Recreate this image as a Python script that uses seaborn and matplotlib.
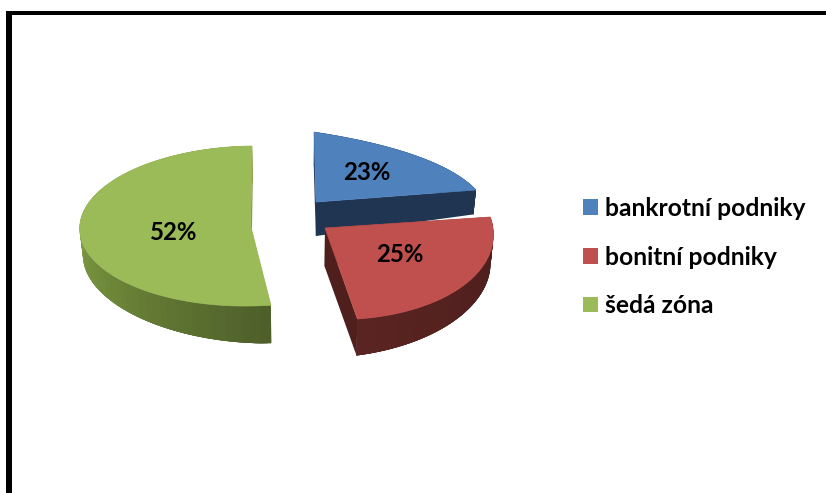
import numpy as np
import matplotlib
matplotlib.use("Agg")
import matplotlib.pyplot as plt
from matplotlib.patches import Patch, Polygon, Rectangle
import seaborn as sns

# Chart content
categories = ["bankrotní podniky", "bonitní podniky", "šedá zóna"]
shares = [23, 25, 52]

sns.set_theme(style="white")
plt.rcParams["font.family"] = ["Lato", "DejaVu Sans"]
plt.rcParams["font.weight"] = "bold"

top_colors = sns.color_palette(["#4F81BD", "#C0504D", "#9BBB59"])
side_ramps = [
    sns.blend_palette(["#1F3552", "#1F3552"], 64),
    sns.blend_palette(["#4B1E1C", "#5A2422"], 64),
    sns.blend_palette(["#4E5F2A", "#6E8839", "#8DA851", "#8DA851"], 64),
]
cut_colors = ["#1F3552", "#4E1F1D", "#7F9A45"]

# Projection of each exploded slice: apex, images of the disc's east and north
# axes, perspective terms of the homogeneous divisor, wall thickness, label spot.
projections = [
    dict(apex=(316, 202), east=(296.1, -9.8), north=(-2.8, -98.4), persp=(0.789, 0.406), depth=35, label=(367, 173)),
    dict(apex=(325, 228), east=(168.0, 0.5), north=(-11.4, -91.6), persp=(0.0, 0.0), depth=40, label=(400, 255)),
    dict(apex=(250.7, 226), east=(171.0, -2.0), north=(1.3, -80.0), persp=(0.0, 0.0), depth=40, label=(174, 233)),
]
# Paint back to front
draw_order = [2, 0, 1]


def disc_point(proj, theta):
    """Project a point on the rim at clockwise angle theta from twelve o'clock."""
    u, v = np.sin(theta), np.cos(theta)
    w = 1 + proj["persp"][0] * u + proj["persp"][1] * v
    x = proj["apex"][0] + (proj["east"][0] * u + proj["north"][0] * v) / w
    y = proj["apex"][1] + (proj["east"][1] * u + proj["north"][1] * v) / w
    return np.column_stack([x, y])


def lower(points, depth):
    """Drop a top-face point to the base; thickness shrinks away from the view axis."""
    pts = np.atleast_2d(points)
    x = pts[:, 0] - 0.015 * (pts[:, 0] - 300)
    y = pts[:, 1] + depth - 0.06 * np.abs(pts[:, 0] - 300)
    return np.column_stack([x, y])


fig = plt.figure(figsize=(8.26, 4.93), dpi=100)
ax = fig.add_axes([0, 0, 1, 1])
ax.set_xlim(0, 826)
ax.set_ylim(493, 0)
ax.axis("off")

# Chart-area border, running off the right and bottom of the canvas
ax.add_patch(Rectangle((6, 11), 6, 490, facecolor="black", edgecolor="none"))
ax.add_patch(Rectangle((6, 11), 830, 4, facecolor="black", edgecolor="none"))

edges = np.deg2rad(np.cumsum([0] + shares) * 3.6)

for i in draw_order:
    proj = projections[i]
    thetas = np.linspace(edges[i], edges[i + 1], 160)
    rim = disc_point(proj, thetas)
    base = lower(rim, proj["depth"])
    apex = np.array([proj["apex"]], dtype=float)
    apex_base = lower(apex, proj["depth"])

    # Flat faces left by pulling the slice out of the pie
    for end_pt, end_base in ((rim[0], base[0]), (rim[-1], base[-1])):
        quad = np.vstack([apex[0], end_pt, end_base, apex_base[0]])
        ax.add_patch(Polygon(quad, closed=True, facecolor=cut_colors[i], edgecolor="none"))

    # Rim wall: overlapping strips, so the shading shows no seams
    ramp = side_ramps[i]
    for k in range(len(rim) - 1):
        t = k / (len(rim) - 2)
        color = ramp[int(t * (len(ramp) - 1))]
        stop = min(k + 4, len(rim) - 1)
        quad = np.vstack([rim[k:stop + 1], base[k:stop + 1][::-1]])
        ax.add_patch(Polygon(quad, closed=True, facecolor=color, edgecolor="none"))

    # Top face
    ax.add_patch(Polygon(np.vstack([apex, rim]), closed=True, facecolor=top_colors[i],
                         edgecolor=top_colors[i], linewidth=0.5))

    ax.text(*proj["label"], f"{shares[i]}%", ha="center", va="center",
            fontsize=17.3, fontweight="bold", color="black")

handles = [Patch(facecolor=c, edgecolor="none") for c in top_colors]
ax.legend(handles, categories, loc="upper left", bbox_to_anchor=(583, 197),
          bbox_transform=ax.transData, frameon=False, borderpad=0, borderaxespad=0,
          prop=dict(family="Lato", weight="bold", size=17.7),
          handlelength=0.61, handleheight=0.61, handletextpad=0.28, labelspacing=1.04,
          labelcolor="black")

fig.savefig("out.png", dpi=100, facecolor="white")
